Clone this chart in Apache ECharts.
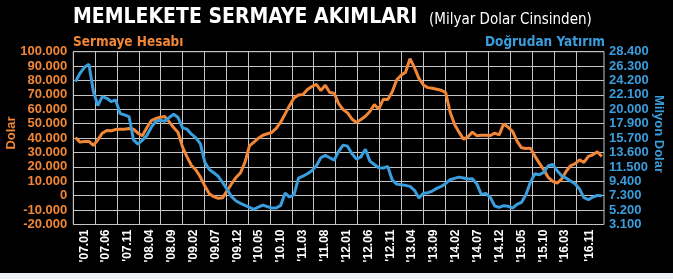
<!DOCTYPE html>
<html><head><meta charset="utf-8">
<script src="https://cdn.jsdelivr.net/npm/echarts@6/dist/echarts.min.js"></script>
<style>html,body{margin:0;padding:0;background:#000;}#c{width:673px;height:279px;}</style>
</head><body><div id="c"></div>
<script>
// Monthly observations, '07.01 ... '16.11
const months = [];
for (let y = 2007; y <= 2016; y++) { for (let m = 1; m <= 12; m++) { if (y === 2016 && m > 11) break; months.push(String(y).slice(2) + '.' + String(m).padStart(2, '0')); } }

// Sermaye Hesabı (left axis, milyon dolar)
const sermayeHesabi = [
 40400,37200,37700,37700,34900,38800,43400,45300,45050,45970,
 46200,46200,46700,46200,43430,41600,47360,52200,53600,54500,
 55000,51300,47360,43900,33700,27000,21000,17800,12950,6700,
 1400,-700,-1800,-1400,3500,8300,12700,15950,23300,34650,
 37200,39970,42000,43000,43900,46700,51050,56800,62600,67900,
 70000,70200,73700,75760,77400,73000,76700,71600,71140,64000,
 59820,57500,53130,50820,52900,55200,58440,63290,60050,66980,
 66750,72060,80370,83600,85690,95150,88900,81530,76900,75060,
 74600,73910,73220,71600,57980,49430,44130,39280,40890,44130,
 41580,42050,42050,41810,43430,42270,49900,47590,44590,37890,
 33270,32800,33040,27500,22650,18030,12720,9950,8800,11570,
 16880,20800,22190,24960,23110,27270,28420,30500,27270
];
// Doğrudan Yatırım (right axis, milyon dolar)
const dogrudanYatirim = [
 24020,25240,26110,26550,22600,20510,21830,21580,21100,21340,
 19340,19150,18900,15500,14860,15450,16130,17350,18180,18370,
 18220,18760,19250,18760,17250,17060,16320,15790,14910,12190,
 11160,10680,10140,9220,8240,7170,6540,6200,5900,5610,
 5320,5660,5950,5710,5520,5520,5900,7700,7120,7460,
 9900,10190,10530,10970,11700,12870,13210,12870,12530,13800,
 14720,14570,13450,12670,13010,14130,12380,11890,11410,11360,
 11600,9650,9020,8920,8830,8680,8100,6980,7660,7750,
 8000,8390,8680,9120,9650,9850,10040,9900,9750,9800,
 9020,7510,7660,7070,5810,5610,5860,5760,5520,6050,
 6340,7460,9270,10530,10380,10720,11700,11890,10970,10240,
 9900,9460,9070,8290,7030,6730,7120,7360,7320
];

const xLabels = ["'07.01","'07.06","'07.11","'08.04","'08.09","'09.02","'09.07","'09.12","'10.05","'10.10","'11.03","'11.08","'12.01","'12.06","'12.11","'13.04","'13.09","'14.02","'14.07","'14.12","'15.05","'15.10","'16.03","'16.11"];
const rightTicks = [3100,5200,7300,9400,11500,13600,15700,17900,20000,22100,24200,26300,28400];

const ORANGE = '#f08636', BLUE = '#3a9ddd', GRID = '#c4c4c4';
function dots(v){ const s = String(Math.abs(Math.round(v))).replace(/\B(?=(\d{3})+(?!\d))/g, '.'); return (v < 0 ? '-' : '') + s; }

// band positions for the label axis
const bandEnd = 24.28;
const bandTicks = []; for (let i = 0; i <= 23; i++) bandTicks.push(i);
const bandCenters = xLabels.map((_, i) => i < 23 ? i + 0.5 : (23 + bandEnd) / 2);

const COND = '"Liberation Sans Narrow", "DejaVu Sans Condensed", "Roboto Condensed", sans-serif';
const chart = echarts.init(document.getElementById('c'));
chart.setOption({
  backgroundColor: '#000',
  animation: false,
  grid: { left: 73.3, right: 69, top: 51.7, bottom: 54.5, show: true, borderColor: GRID, borderWidth: 1, backgroundColor: 'transparent' },
  xAxis: [
    { type: 'category', data: months, show: false, boundaryGap: true },
    { type: 'value', min: 0, max: bandEnd, position: 'bottom',
      axisLine: { show: false },
      axisTick: { show: false, customValues: bandTicks },
      splitLine: { show: true, lineStyle: { color: GRID, width: 1 } },
      axisLabel: { customValues: bandCenters, rotate: 90, margin: 5, color: '#fff', fontWeight: 'bold', fontSize: 12, fontFamily: 'Liberation Sans, Arial, sans-serif',
        formatter: v => xLabels[Math.min(23, Math.floor(v))] } }
  ],
  yAxis: [
    { type: 'value', min: -20000, max: 100000, interval: 10000,
      axisLine: { show: false }, axisTick: { show: false },
      splitLine: { show: true, lineStyle: { color: GRID, width: 1 } },
      axisLabel: { color: ORANGE, fontWeight: 'bold', fontSize: 13, fontFamily: 'Liberation Sans, Arial, sans-serif', margin: 6, formatter: v => dots(v) } },
    { type: 'value', min: 3100, max: 28400, position: 'right',
      axisLine: { show: false }, axisTick: { show: false }, splitLine: { show: false },
      axisLabel: { customValues: rightTicks, color: BLUE, fontWeight: 'bold', fontSize: 13, fontFamily: 'Liberation Sans, Arial, sans-serif', margin: 5, formatter: v => dots(v) } }
  ],
  series: [
    { name: 'Sermaye Hesabı', type: 'line', xAxisIndex: 0, yAxisIndex: 0, data: sermayeHesabi, symbol: 'none', lineStyle: { color: ORANGE, width: 3 }, z: 3 },
    { name: 'Doğrudan Yatırım', type: 'line', xAxisIndex: 0, yAxisIndex: 1, data: dogrudanYatirim, symbol: 'none', lineStyle: { color: BLUE, width: 3 }, z: 4 }
  ],
  graphic: [
    { type: 'rect', shape: { x: 0, y: 273, width: 673, height: 6 }, style: { fill: '#eef1f6' }, silent: true },
    { type: 'text', x: 73, y: 18, style: { text: 'MEMLEKETE SERMAYE AKIMLARI', fill: '#fff', font: 'bold 21px ' + COND, verticalAlign: 'middle', align: 'left' } },
    { type: 'text', x: 429, y: 20, style: { text: '(Milyar Dolar Cinsinden)', fill: '#fff', font: '15px ' + COND, verticalAlign: 'middle', align: 'left' } },
    { type: 'text', x: 73, y: 42, style: { text: 'Sermaye Hesabı', fill: ORANGE, font: 'bold 13.5px ' + COND, verticalAlign: 'middle', align: 'left' } },
    { type: 'text', x: 605, y: 42, style: { text: 'Doğrudan Yatırım', fill: BLUE, font: 'bold 13.5px ' + COND, verticalAlign: 'middle', align: 'right' } },
    { type: 'text', x: 11, y: 133, rotation: Math.PI / 2, style: { text: 'Dolar', fill: ORANGE, font: 'bold 13px "Liberation Sans", Arial, sans-serif', verticalAlign: 'middle', align: 'center' } },
    { type: 'text', x: 659, y: 134, rotation: -Math.PI / 2, style: { text: 'Milyon Dolar', fill: BLUE, font: 'bold 13px "Liberation Sans", Arial, sans-serif', verticalAlign: 'middle', align: 'center' } }
  ]
});
</script></body></html>
